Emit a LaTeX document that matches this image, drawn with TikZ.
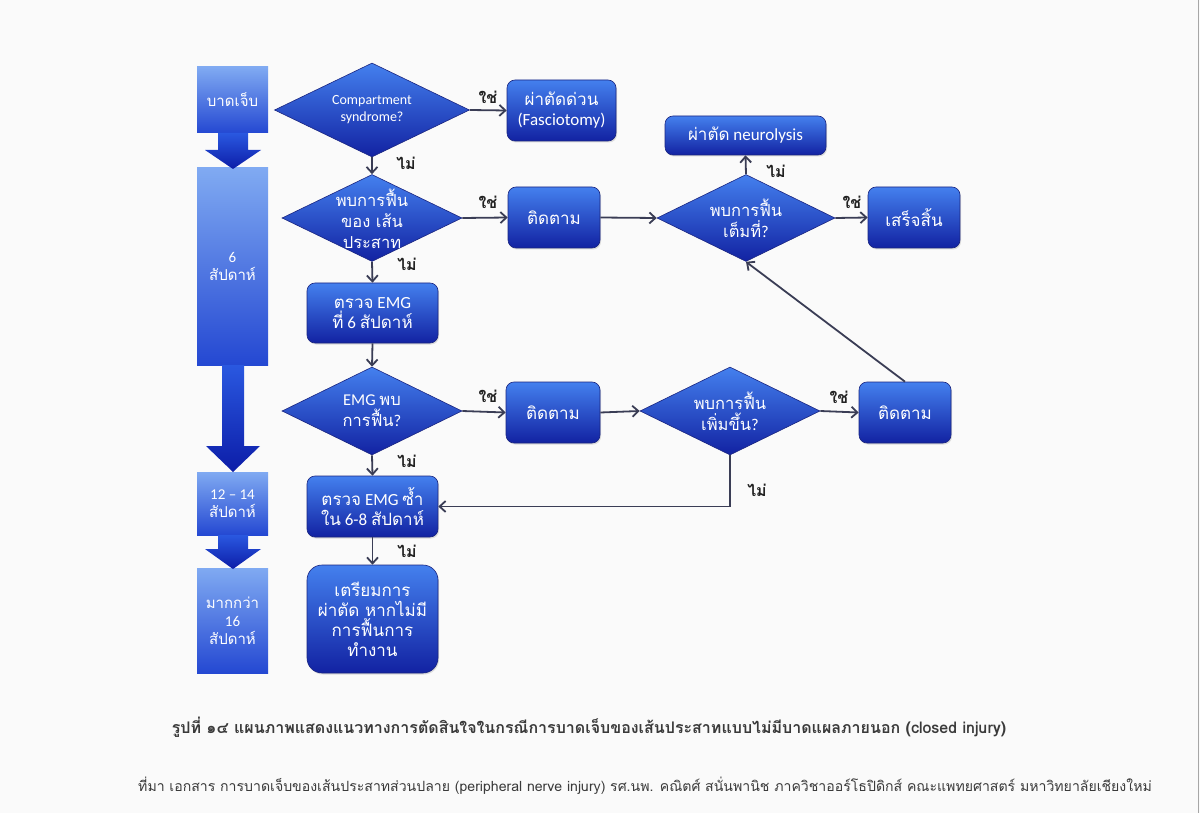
\documentclass[tikz,border=0pt]{standalone}
\usepackage{fontspec}
\setmainfont{Carlito}
\newfontfamily\thai[Script=Thai]{Loma}
\usetikzlibrary{shapes.geometric,arrows.meta,shadows}
\newcommand\T[1]{{\thai #1}}
\definecolor{bg}{HTML}{FAFAFA}
\definecolor{boxtop}{HTML}{4480EE}
\definecolor{boxbot}{HTML}{1222A2}
\definecolor{boxdraw}{HTML}{1A2580}
\definecolor{ltop}{HTML}{80AAF2}
\definecolor{lbot}{HTML}{2448D2}
\definecolor{atop}{HTML}{2A58E0}
\definecolor{abot}{HTML}{0C1DA8}
\definecolor{conn}{HTML}{3A3D55}
\definecolor{lbl}{HTML}{222222}
\definecolor{cap}{HTML}{3A3A3A}
\tikzset{
  flowbox/.style={rectangle, rounded corners=8pt, draw=boxdraw, line width=0.6pt,
    top color=boxtop, bottom color=boxbot, text=white, align=center,
    font=\fontsize{17}{20}\selectfont, inner sep=0pt,
    drop shadow={opacity=0.25, shadow xshift=1pt, shadow yshift=-1.5pt}},
  flowdia/.style={diamond, draw=boxdraw, line width=0.6pt,
    top color=boxtop, bottom color=boxbot, inner sep=0pt},
  diatext/.style={text=white, align=center, font=\fontsize{16.5}{21}\selectfont, inner sep=0pt},
  leftbox/.style={rectangle, top color=ltop, bottom color=lbot, text=white, align=center,
    font=\fontsize{15}{18}\selectfont, inner sep=0pt},
  conarrow/.style={draw=conn, line width=1.8pt, -{Straight Barb[length=6pt,width=11pt]}},
  yn/.style={text=lbl, font=\thai\fontsize{16}{18}\selectfont\bfseries, inner sep=0pt},
}
\begin{document}
\begin{tikzpicture}[x=1pt,y=-1pt]
\useasboundingbox (0,0) rectangle (1200,813);
\fill[bg] (0,0) rectangle (1200,813);
\draw[gray!70, line width=1.5pt] (1198.5,0) -- (1198.5,813);

% left column
\node[leftbox, minimum width=71pt, minimum height=66pt] (l1) at (232.5,100) {\T{บาดเจ็บ}};
\node[leftbox, minimum width=71pt, minimum height=197pt] (l2) at (232.5,266.5) {6\\\T{สัปดาห์}};
\node[leftbox, minimum width=71pt, minimum height=63pt] (l3) at (232.5,503.5) {12 – 14\\\T{สัปดาห์}};
\node[leftbox, minimum width=71pt, minimum height=105pt] (l4) at (232.5,620.5) {\T{มากกว่า}\\16\\\T{สัปดาห์}};
\shade[top color=atop, bottom color=abot] (218,133) -- (248,133) -- (248,150) -- (261,150) -- (233,169) -- (205,150) -- (218,150) -- cycle;
\shade[top color=atop, bottom color=abot] (222,365) -- (244,365) -- (244,446) -- (260,446) -- (233,472) -- (206,446) -- (222,446) -- cycle;
\shade[top color=atop, bottom color=abot] (218,535) -- (248,535) -- (248,549) -- (261,549) -- (233,569) -- (205,549) -- (218,549) -- cycle;

% diamonds
\node[flowdia, minimum width=195pt, minimum height=94pt] (d1) at (372,110) {};
\node[diatext, font=\fontsize{14}{17}\selectfont] (d1t) at (d1) {Compartment\\syndrome?};
\node[flowdia, minimum width=180pt, minimum height=87pt] (d2) at (372,218) {};
\node[diatext] (d2t) at (372,219) {\T{พบการฟื้น}\\\T{ของ เส้น}\\\T{ประสาท}};
\node[flowdia, minimum width=178pt, minimum height=87pt] (d3) at (746,218) {};
\node[diatext] (d3t) at (d3) {\T{พบการฟื้น}\\\T{เต็มที่}?};
\node[flowdia, minimum width=180pt, minimum height=88pt] (d4) at (372,411) {};
\node[diatext] (d4t) at (d4) {EMG \T{พบ}\\\T{การฟื้น}?};
\node[flowdia, minimum width=180pt, minimum height=88pt] (d5) at (730,411) {};
\node[diatext] (d5t) at (d5) {\T{พบการฟื้น}\\\T{เพิ่มขึ้น}?};

% boxes
\node[flowbox, minimum width=109pt, minimum height=61pt] (fas) at (561.5,110.5) {\T{ผ่าตัดด่วน}\\(Fasciotomy)};
\node[flowbox, minimum width=92pt, minimum height=61pt] (fu1) at (554,217.5) {\T{ติดตาม}};
\node[flowbox, minimum width=161pt, minimum height=39pt] (neu) at (745.5,135.5) {\T{ผ่าตัด} neurolysis};
\node[flowbox, minimum width=92pt, minimum height=61pt] (done) at (914,217.5) {\T{เสร็จสิ้น}};
\node[flowbox, minimum width=131pt, minimum height=60pt] (emg6) at (372.5,313) {\T{ตรวจ} EMG\\\T{ที่} 6 \T{สัปดาห์}};
\node[flowbox, minimum width=94pt, minimum height=61pt] (fu2) at (553,412.5) {\T{ติดตาม}};
\node[flowbox, minimum width=92pt, minimum height=61pt] (fu3) at (905,412.5) {\T{ติดตาม}};
\node[flowbox, minimum width=131pt, minimum height=61pt] (emgr) at (372.5,506.5) {\T{ตรวจ} EMG \T{ซ้ำ}\\\T{ใน} 6-8 \T{สัปดาห์}};
\node[flowbox, rounded corners=15pt, minimum width=131pt, minimum height=108pt] (prep) at (372.5,619) {\T{เตรียมการ}\\\T{ผ่าตัด หากไม่มี}\\\T{การฟื้นการ}\\\T{ทำงาน}};

% connectors
\draw[conarrow] (d1.east) -- (fas.west);
\draw[conarrow] (d1.south) -- (d2.north);
\draw[conarrow] (d2.east) -- (fu1.west);
\draw[conarrow] (fu1.east) -- (d3.west);
\draw[conarrow] (d3.north) -- (neu.south);
\draw[conarrow] (d3.east) -- (done.west);
\draw[conarrow] (d2.south) -- (emg6.north);
\draw[conarrow] (emg6.south) -- (d4.north);
\draw[conarrow] (d4.east) -- (fu2.west);
\draw[conarrow] (fu2.east) -- (d5.west);
\draw[conarrow] (d5.east) -- (fu3.west);
\draw[conarrow] (fu3.north) -- (d3.south);
\draw[conarrow] (d5.south) -- (d5.south |- emgr.east) -- (emgr.east);
\draw[conarrow] (d4.south) -- (emgr.north);
\draw[conarrow] (emgr.south) -- (prep.north);

% yes/no labels
\node[yn] (y1) at (488,97) {ใช่};
\node[yn] (n1) at (406,163) {ไม่};
\node[yn] (y2) at (488,202) {ใช่};
\node[yn] (n2) at (776,171) {ไม่};
\node[yn] (y3) at (852,202) {ใช่};
\node[yn] (n3) at (407,264) {ไม่};
\node[yn] (y4) at (488,396) {ใช่};
\node[yn] (y5) at (839,397) {ใช่};
\node[yn] (n4) at (757,490) {ไม่};
\node[yn] (n5) at (407,461) {ไม่};
\node[yn] (n6) at (407,551) {ไม่};

% captions
\node[text=cap, font=\thai\fontsize{16}{19}\selectfont\bfseries, inner sep=0pt] (caption) at (589,727)
  {รูปที่ ๑๔ แผนภาพแสดงแนวทางการตัดสินใจในกรณีการบาดเจ็บของเส้นประสาทแบบไม่มีบาดแผลภายนอก (closed injury)};
\node[text=cap, font=\thai\fontsize{14.1}{17}\selectfont, inner sep=0pt] (source) at (645,786)
  {ที่มา เอกสาร การบาดเจ็บของเส้นประสาทส่วนปลาย (peripheral nerve injury) รศ.นพ. คณิตศ์ สนั่นพานิช ภาควิชาออร์โธปิดิกส์ คณะแพทยศาสตร์ มหาวิทยาลัยเชียงใหม่};
\end{tikzpicture}
\end{document}
